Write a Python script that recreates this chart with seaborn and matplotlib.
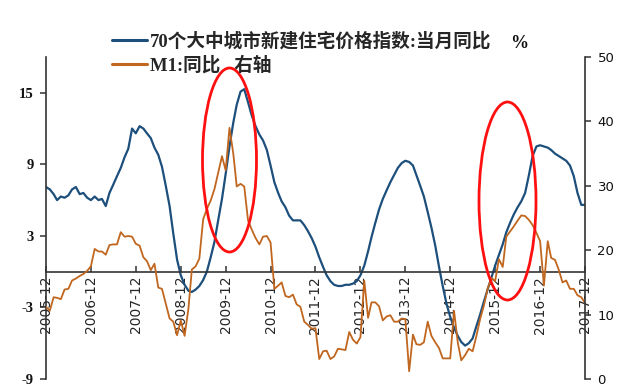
import matplotlib
matplotlib.use("Agg")
import matplotlib.pyplot as plt
from matplotlib.patches import Ellipse
import seaborn as sns
import pandas as pd

# ---------------- data ----------------
months = pd.date_range("2005-12-01", periods=145, freq="MS")

price_yoy = [
    7.1, 6.9, 6.5, 6.0, 6.3, 6.2, 6.4, 6.9, 7.1, 6.5, 6.6, 6.2, 6.0,
    6.3, 6.0, 6.1, 5.5, 6.6, 7.3, 8.0, 8.7, 9.6, 10.3, 12.0, 11.6,
    12.2, 12.0, 11.6, 11.2, 10.4, 9.8, 8.8, 7.2, 5.5, 3.2, 1.0, -0.3,
    -1.1, -1.6, -1.7, -1.5, -1.2, -0.7, 0.0, 1.2, 2.5, 4.3, 6.1, 8.2,
    10.5, 12.5, 14.0, 15.1, 15.3, 14.2, 13.1, 12.2, 11.5, 11.0, 10.2, 8.9,
    7.5, 6.6, 5.9, 5.4, 4.7, 4.3, 4.3, 4.3, 3.9, 3.4, 2.8, 2.1,
    1.2, 0.4, -0.3, -0.8, -1.1, -1.2, -1.2, -1.1, -1.1, -1.0, -0.8, -0.3,
    0.5, 1.7, 2.9, 4.1, 5.2, 6.1, 6.8, 7.5, 8.1, 8.7, 9.1, 9.3,
    9.2, 8.9, 8.1, 7.2, 6.3, 5.0, 3.7, 2.2, 0.4, -1.2, -2.7, -3.8,
    -4.7, -5.4, -5.9, -6.2, -6.0, -5.6, -4.6, -3.6, -2.5, -1.5, -0.5, 0.5,
    1.4, 2.3, 3.3, 4.1, 4.8, 5.4, 5.9, 6.6, 8.1, 9.7, 10.5, 10.6,
    10.5, 10.4, 10.2, 9.9, 9.7, 9.5, 9.3, 8.9, 8.0, 6.6, 5.6, 5.6,
]

m1_yoy = [
    11.2,
    10.6, 12.7, 12.6, 12.4, 13.9, 14.0, 15.3, 15.6, 16.0, 16.3, 16.8, 17.5,
    20.2, 19.8, 19.8, 19.3, 20.8, 20.9, 20.9, 22.8, 22.1, 22.2, 22.1, 21.0,
    20.7, 18.9, 18.3, 16.9, 17.9, 14.2, 14.0, 11.7, 9.4, 8.9, 6.8, 9.1,
    6.7, 10.9, 17.0, 17.5, 18.7, 24.8, 26.4, 27.7, 29.5, 32.0, 34.6, 32.4,
    39.0, 35.0, 29.9, 30.3, 29.9, 24.6, 23.2, 21.9, 20.9, 22.1, 22.2, 21.2,
    14.0, 14.5, 15.0, 12.9, 12.7, 13.1, 11.6, 11.2, 8.9, 8.4, 7.8, 7.9,
    3.1, 4.3, 4.4, 3.1, 3.5, 4.7, 4.6, 4.5, 7.3, 6.1, 5.5, 6.5,
    15.3, 9.5, 11.9, 11.9, 11.3, 9.1, 9.7, 9.9, 8.9, 8.9, 9.4, 9.3,
    1.2, 6.9, 5.4, 5.3, 5.7, 8.9, 6.7, 5.7, 4.8, 3.2, 3.2, 3.2,
    10.6, 5.6, 2.9, 3.7, 4.7, 4.3, 6.6, 9.3, 11.4, 14.0, 15.7, 15.2,
    18.6, 17.4, 22.1, 22.9, 23.7, 24.6, 25.4, 25.3, 24.7, 23.9, 22.7, 21.4,
    14.5, 21.4, 18.8, 18.5, 17.0, 15.0, 15.3, 14.0, 14.0, 13.0, 12.7, 11.8,
]

tick_labels = [f"{y}-12" for y in range(2005, 2018)]
left_ticks = [-9, -3, 3, 9, 15]
right_ticks = [0, 10, 20, 30, 40, 50]
label_price = "70个大中城市新建住宅价格指数:当月同比"
label_m1 = "M1:同比   右轴"

# ---------------- style ----------------
sns.set_style("white")
plt.rcParams["font.family"] = ["DejaVu Sans", "Noto Sans CJK SC"]

BLUE = "#1d4f7c"
BROWN = "#c0661e"
AXC = "#333333"

df = pd.DataFrame({"month": months, "price": price_yoy, "m1": m1_yoy})

fig = plt.figure(figsize=(6.41, 3.89), dpi=100)
fig.patch.set_facecolor("white")
ax = fig.add_axes([46 / 641, 1 - 379 / 389, (585 - 46) / 641, (379 - 57) / 389])
ax.set_facecolor("white")

sns.lineplot(data=df, x="month", y="price", ax=ax, color=BLUE, lw=1.6,
             label=label_price, legend=False)
ax2 = ax.twinx()
sns.lineplot(data=df, x="month", y="m1", ax=ax2, color=BROWN, lw=1.3,
             label=label_m1, legend=False)

ax.set_xlim(months[0], months[-1])
ax.set_ylim(-9, 18)
ax2.set_ylim(0, 50)
ax.set_xlabel("")
ax.set_ylabel("")
ax2.set_ylabel("")

ax.set_xticks(months[::12])
ax.set_xticklabels(tick_labels)
plt.setp(ax.get_xticklabels(), rotation=90, fontsize=9, color="#111111",
         family=["DejaVu Sans"], ha="center", va="top",
         rotation_mode="default")
ax.set_yticks(left_ticks)
ax.set_yticklabels([str(t) for t in left_ticks], fontsize=10.5,
                   fontweight="bold", family=["Liberation Serif"], color="#111111")
ax2.set_yticks(right_ticks)
ax2.set_yticklabels([str(t) for t in right_ticks], fontsize=9.5,
                    family=["DejaVu Sans"], color="#111111")

for s in ["top", "right"]:
    ax.spines[s].set_visible(False)
for s in ["top", "bottom", "left"]:
    ax2.spines[s].set_visible(False)
ax.spines["bottom"].set_position(("data", 0))
for sp in [ax.spines["left"], ax.spines["bottom"], ax2.spines["right"]]:
    sp.set_color(AXC)
    sp.set_linewidth(1.2)

ax.tick_params(axis="y", which="both", left=True, direction="out", length=4,
               width=1.1, color=AXC, pad=5)
ax.tick_params(axis="x", which="both", bottom=True, direction="in", length=4,
               width=1.1, color=AXC, pad=3, labelrotation=90)
ax2.tick_params(axis="y", which="both", right=True, direction="out", length=4,
                width=1.1, color=AXC, pad=5)
ax.grid(False)
ax2.grid(False)

# red annotation ellipses
for (cx, cy, w, h) in [((229.5 - 46) / 539, (379 - 160) / 322, 54 / 539, 184 / 322),
                       ((507.5 - 46) / 539, (379 - 201) / 322, 57 / 539, 198 / 322)]:
    ax2.add_patch(Ellipse((cx, cy), w, h, transform=ax2.transAxes, fill=False,
                          edgecolor="#ff1010", lw=2.0, clip_on=False, zorder=10))

# legend
h1 = ax.get_lines()[0]
h2 = ax2.get_lines()[0]
leg = fig.legend([h1, h2], [label_price, label_m1], loc="upper left",
                 bbox_to_anchor=(112 / 641, 1 - 32 / 389), frameon=False,
                 borderpad=0, borderaxespad=0, handlelength=1.9,
                 handletextpad=0.15, labelspacing=0.3,
                 prop={"family": ["Liberation Serif", "Noto Sans CJK SC"],
                       "weight": "bold", "size": 13.4})
for line in leg.get_lines():
    line.set_linewidth(2.2)
fig.text(510 / 641, 1 - 43 / 389, "%", fontsize=13, fontweight="bold",
         family=["Liberation Serif"], va="center", ha="left", color="#111111")

fig.savefig("out.png", dpi=100, facecolor="white")
